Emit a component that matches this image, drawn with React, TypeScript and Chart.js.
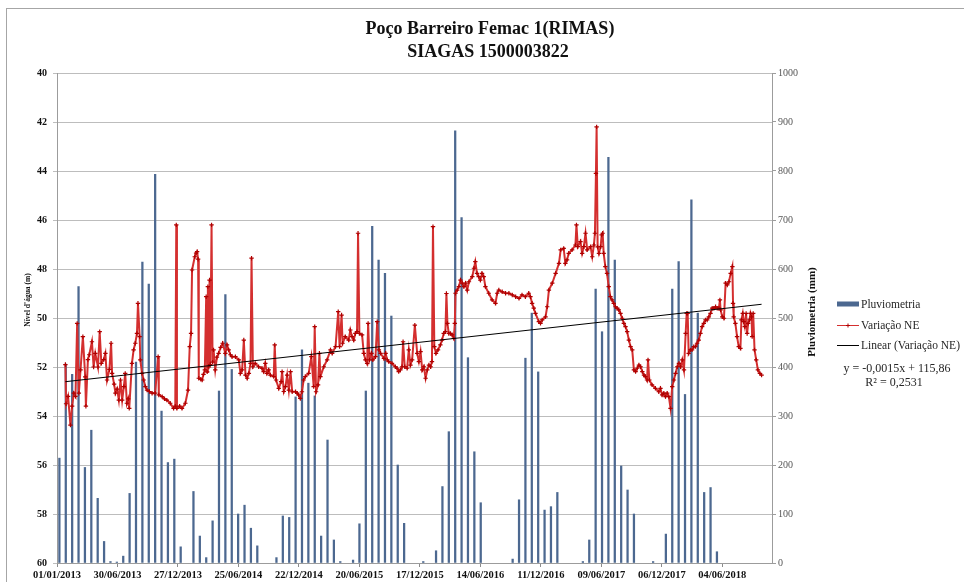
import { useEffect, useRef } from 'react';
import { Chart, registerables } from 'chart.js';

Chart.register(...registerables);

const FAMILY = "'Times New Roman', 'Liberation Serif', serif";

const TITLE_LINES = ['Poço Barreiro Femac 1(RIMAS)', 'SIAGAS 1500003822'];
const LEFT_AXIS_TITLE = "Nível d'água (m)";
const RIGHT_AXIS_TITLE = 'Pluviometria (mm)';

// x axis: days since 01/01/2013
const X_MIN_DAY = 0;
const X_MAX_DAY = 2128;
const X_TICK_DAYS = [0, 180, 360, 540, 720, 900, 1080, 1260, 1440, 1620, 1800, 1980];
const X_TICK_LABELS = [
  '01/01/2013', '30/06/2013', '27/12/2013', '25/06/2014', '22/12/2014', '20/06/2015',
  '17/12/2015', '14/06/2016', '11/12/2016', '09/06/2017', '06/12/2017', '04/06/2018',
];

// Pluviometria (mm), one bar per category of the secondary axis
const RAIN_MM = [
  214, 406, 385, 564, 195, 271, 132, 44, 3, 2,
  14, 142, 410, 614, 569, 793, 310, 205, 212, 33,
  0, 146, 55, 11, 86, 351, 548, 395, 100, 118,
  71, 35, 0, 0, 11, 96, 93, 339, 435, 367,
  341, 55, 251, 47, 3, 0, 6, 80, 351, 687,
  618, 591, 504, 200, 81, 0, 0, 3, 0, 25,
  156, 268, 882, 705, 419, 227, 123, 0, 0, 0,
  0, 8, 129, 418, 510, 390, 108, 115, 144, 0,
  0, 0, 3, 47, 559, 472, 828, 618, 198, 149,
  100, 0, 0, 3, 0, 59, 559, 615, 344, 741,
  510, 144, 154, 23, 0, 0, 0, 0, 0, 0,
  0, 0,
];
const RAIN_LABELS = RAIN_MM.map((_, i) => String(i + 1));

// Variação NE: [day since 01/01/2013, level (m)]
const NE_SERIES: [number, number][] = [
  [25, 51.9], [27, 53.5], [33, 53.2], [40, 54.37], [45, 53.6], [50, 53.07], [55, 53.2], [60, 50.22], [65, 53.07], [70, 52.12],
  [77, 50.76], [84, 52.4], [86, 53.6], [92, 51.7], [96, 51.5], [104, 50.97], [109, 52.0], [114, 51.44], [122, 52.0], [127, 50.56],
  [132, 51.85], [139, 51.7], [144, 51.44], [149, 52.53], [156, 52.1], [161, 51.03], [164, 52.26], [170, 52.7], [174, 53.07], [179, 52.9],
  [184, 53.35], [189, 52.53], [194, 53.35], [199, 52.8], [203, 52.26], [208, 53.48], [212, 53.3], [215, 53.69], [223, 51.85], [228, 51.3],
  [233, 51.03], [238, 50.63], [241, 49.4], [246, 50.76], [248, 51.71], [253, 52.26], [258, 52.53], [263, 52.8], [268, 52.94], [275, 53.0],
  [283, 53.07], [292, 53.07], [301, 51.58], [303, 53.14], [313, 53.21], [320, 53.3], [327, 53.35], [337, 53.48], [347, 53.69], [352, 53.6],
  [355, 46.2], [357, 53.69], [365, 53.6], [372, 53.69], [382, 53.48], [390, 52.94], [395, 51.17], [399, 50.63], [402, 48.04], [410, 47.5],
  [414, 47.35], [417, 47.29], [420, 47.6], [422, 52.46], [428, 52.5], [432, 52.53], [436, 52.3], [440, 52.12], [444, 49.13], [447, 52.2],
  [449, 48.72], [452, 52.0], [454, 48.45], [456, 51.9], [460, 46.2], [463, 51.8], [466, 51.3], [471, 52.12], [476, 51.6], [481, 51.44],
  [487, 51.2], [493, 51.03], [501, 51.44], [506, 51.1], [511, 51.3], [516, 51.5], [521, 51.58], [531, 51.58], [541, 51.71], [546, 52.26],
  [551, 52.12], [556, 50.9], [561, 52.33], [566, 52.46], [571, 52.26], [576, 51.85], [579, 47.56], [583, 51.99], [590, 51.85], [600, 51.99],
  [610, 52.05], [615, 52.19], [620, 51.85], [625, 52.26], [630, 52.12], [635, 52.33], [645, 52.39], [648, 51.1], [652, 52.53], [660, 52.87],
  [667, 52.6], [670, 52.19], [675, 53.0], [680, 52.8], [685, 52.33], [690, 52.94], [695, 52.19], [700, 53.01], [710, 53.01], [715, 53.07],
  [719, 53.14], [724, 53.28], [729, 53.01], [734, 52.53], [739, 52.39], [749, 52.26], [757, 51.58], [764, 52.8], [767, 50.35], [771, 53.01],
  [777, 52.73], [781, 51.44], [784, 52.39], [794, 51.99], [804, 51.71], [814, 51.3], [819, 51.44], [829, 51.17], [837, 49.74], [841, 51.17],
  [847, 49.88], [850, 51.03], [858, 50.76], [868, 50.9], [873, 50.49], [878, 50.76], [883, 50.9], [888, 50.63], [893, 50.56], [896, 46.54],
  [900, 50.63], [908, 50.69], [913, 51.44], [918, 51.71], [923, 51.85], [926, 50.22], [930, 51.71], [936, 51.44], [940, 51.71], [948, 51.58],
  [953, 50.15], [958, 51.3], [963, 51.44], [973, 51.65], [978, 51.44], [983, 51.71], [987, 51.78], [997, 51.85], [1007, 51.99], [1012, 52.05],
  [1017, 52.19], [1022, 52.12], [1027, 51.99], [1030, 50.97], [1035, 51.99], [1042, 52.05], [1047, 51.3], [1052, 51.92], [1057, 51.71], [1065, 50.29],
  [1072, 51.44], [1077, 51.78], [1082, 51.37], [1087, 52.12], [1092, 51.99], [1097, 52.46], [1102, 52.12], [1107, 51.92], [1112, 51.99], [1116, 51.78],
  [1119, 46.27], [1123, 51.17], [1128, 51.44], [1134, 51.3], [1141, 51.1], [1146, 50.9], [1151, 50.63], [1156, 50.56], [1159, 49.0], [1162, 50.22],
  [1166, 50.63], [1171, 50.63], [1176, 50.69], [1181, 50.83], [1184, 50.22], [1186, 48.99], [1191, 48.86], [1196, 48.72], [1201, 48.45], [1206, 48.58],
  [1211, 48.72], [1216, 48.58], [1221, 48.86], [1226, 48.52], [1236, 48.31], [1241, 47.97], [1245, 47.7], [1250, 48.18], [1255, 48.31], [1260, 48.45],
  [1265, 48.18], [1270, 48.31], [1275, 48.72], [1285, 48.99], [1295, 49.26], [1305, 49.4], [1310, 48.99], [1315, 48.86], [1325, 48.93], [1335, 48.99],
  [1345, 48.99], [1355, 49.06], [1365, 49.13], [1375, 49.2], [1384, 49.06], [1394, 49.13], [1404, 48.99], [1409, 49.13], [1414, 49.4], [1419, 49.6],
  [1424, 49.81], [1434, 50.15], [1439, 50.22], [1444, 50.08], [1454, 49.95], [1459, 49.54], [1464, 48.86], [1474, 48.58], [1484, 48.18], [1494, 47.77],
  [1499, 47.22], [1508, 47.16], [1513, 47.77], [1518, 47.63], [1523, 47.36], [1533, 47.22], [1543, 47.02], [1546, 46.2], [1550, 47.09], [1558, 46.88],
  [1563, 47.36], [1568, 47.09], [1573, 46.54], [1578, 47.22], [1588, 47.09], [1593, 47.5], [1598, 47.02], [1601, 46.54], [1604, 44.1], [1606, 42.2],
  [1609, 47.1], [1613, 47.36], [1618, 47.09], [1621, 46.61], [1624, 46.54], [1627, 47.36], [1632, 47.9], [1637, 48.18], [1642, 48.72], [1647, 49.13],
  [1652, 49.26], [1657, 49.4], [1662, 49.54], [1667, 49.6], [1672, 49.67], [1677, 49.81], [1682, 50.01], [1687, 50.22], [1692, 50.35], [1697, 50.56],
  [1702, 50.9], [1707, 51.17], [1712, 51.3], [1717, 52.12], [1722, 52.19], [1727, 52.05], [1732, 51.92], [1737, 51.99], [1742, 52.19], [1747, 52.33],
  [1751, 52.39], [1756, 52.53], [1759, 51.71], [1763, 52.53], [1771, 52.73], [1781, 52.87], [1791, 53.01], [1796, 52.87], [1801, 53.14], [1806, 53.07],
  [1811, 53.21], [1816, 53.07], [1821, 53.21], [1826, 53.69], [1831, 52.8], [1836, 52.53], [1841, 52.26], [1846, 51.99], [1851, 51.85], [1856, 51.99],
  [1861, 51.71], [1866, 52.12], [1871, 50.63], [1874, 49.81], [1877, 49.81], [1880, 51.44], [1885, 51.3], [1890, 51.3], [1895, 51.17], [1900, 51.17],
  [1905, 51.03], [1910, 50.9], [1915, 50.63], [1920, 50.35], [1925, 50.22], [1930, 50.08], [1935, 50.08], [1940, 49.95], [1945, 49.81], [1950, 49.6],
  [1955, 49.6], [1960, 49.54], [1965, 49.6], [1970, 49.6], [1973, 49.26], [1975, 49.67], [1980, 49.95], [1985, 50.01], [1990, 48.58], [1995, 48.65],
  [2000, 48.52], [2005, 48.18], [2010, 47.9], [2012, 49.4], [2014, 49.95], [2019, 50.22], [2024, 50.76], [2029, 51.17], [2034, 51.24], [2037, 50.08],
  [2041, 49.81], [2044, 50.15], [2047, 50.35], [2051, 49.81], [2054, 50.63], [2057, 50.22], [2061, 50.08], [2064, 49.81], [2067, 49.95], [2069, 50.76],
  [2072, 49.81], [2076, 51.3], [2081, 51.71], [2086, 52.12], [2092, 52.26], [2097, 52.33],
];

// Linear trend of Variação NE (end points)
const TREND_DAYS = [25, 2097];
const TREND_LEVELS = [52.6, 49.44];
const TREND_EQUATION = 'y = -0,0015x + 115,86';
const TREND_R2 = 'R² = 0,2531';

const BAR_COLOR = '#4C6890';
const NE_LINE_COLOR = '#D42F2F';
const NE_POINT_COLOR = '#B00000';

const decorPlugin = {
  id: 'decor',
  beforeDraw(chart: any) {
    const ctx = chart.ctx;
    ctx.save();
    ctx.fillStyle = '#ffffff';
    ctx.fillRect(0, 0, chart.width, chart.height);
    ctx.strokeStyle = '#a6a6a6';
    ctx.lineWidth = 1;
    ctx.strokeRect(6.5, 8.5, chart.width + 20, chart.height + 20);
    ctx.restore();
  },
  afterDraw(chart: any) {
    const ctx = chart.ctx;
    const area = chart.chartArea;
    ctx.save();
    // title
    ctx.fillStyle = '#111';
    ctx.textAlign = 'center';
    ctx.textBaseline = 'alphabetic';
    ctx.font = `bold 18px ${FAMILY}`;
    ctx.fillText(TITLE_LINES[0], 490, 34);
    ctx.fillText(TITLE_LINES[1], 488, 57);

    // axis titles
    ctx.save();
    ctx.translate(28, 300);
    ctx.rotate(-Math.PI / 2);
    ctx.font = `bold 7.5px ${FAMILY}`;
    ctx.textBaseline = 'middle';
    ctx.fillText(LEFT_AXIS_TITLE, 0, 0);
    ctx.restore();

    ctx.save();
    ctx.translate(area.right + 40, 312);
    ctx.rotate(-Math.PI / 2);
    ctx.font = `bold 11px ${FAMILY}`;
    ctx.textBaseline = 'middle';
    ctx.fillText(RIGHT_AXIS_TITLE, 0, 0);
    ctx.restore();

    // legend
    const ds = chart.data.datasets;
    const lx = 837;
    const sw = 22;
    const rows = [304, 325, 345];
    ctx.font = `11.5px ${FAMILY}`;
    ctx.textAlign = 'left';
    ctx.textBaseline = 'middle';
    // bars
    ctx.fillStyle = ds[0].backgroundColor;
    ctx.fillRect(lx, rows[0] - 2.5, sw, 5);
    // Variação NE
    ctx.strokeStyle = ds[1].borderColor;
    ctx.lineWidth = 1;
    ctx.beginPath();
    ctx.moveTo(lx, rows[1] + 0.5);
    ctx.lineTo(lx + sw, rows[1] + 0.5);
    ctx.stroke();
    ctx.strokeStyle = ds[1].pointBorderColor;
    ctx.beginPath();
    ctx.moveTo(lx + sw / 2 - 2, rows[1] + 0.5);
    ctx.lineTo(lx + sw / 2 + 2, rows[1] + 0.5);
    ctx.moveTo(lx + sw / 2, rows[1] - 1.5);
    ctx.lineTo(lx + sw / 2, rows[1] + 2.5);
    ctx.stroke();
    // trend
    ctx.strokeStyle = ds[2].borderColor;
    ctx.beginPath();
    ctx.moveTo(lx, rows[2] + 0.5);
    ctx.lineTo(lx + sw, rows[2] + 0.5);
    ctx.stroke();
    ctx.fillStyle = '#262626';
    for (let i = 0; i < 3; i++) ctx.fillText(ds[i].label, lx + sw + 2, rows[i] + 1);

    // equation
    ctx.textAlign = 'center';
    ctx.font = `12px ${FAMILY}`;
    ctx.fillText(TREND_EQUATION, 897, 369);
    ctx.fillText(TREND_R2, 894, 383);
    ctx.restore();
  },
};

export default function App() {
  const canvasRef = useRef<HTMLCanvasElement | null>(null);

  useEffect(() => {
    const canvas = canvasRef.current;
    if (!canvas) return;
    const chart = new Chart(canvas, {
      type: 'line',
      data: {
        datasets: [
          {
            type: 'bar',
            label: 'Pluviometria',
            data: RAIN_MM.map((v) => (v === 0 ? null : v)),
            xAxisID: 'xBar',
            yAxisID: 'yRain',
            backgroundColor: BAR_COLOR,
            borderWidth: 0,
            barThickness: 1.6,
            order: 3,
          } as any,
          {
            type: 'line',
            label: 'Variação NE',
            data: NE_SERIES.map(([d, v]) => ({ x: d, y: v })),
            xAxisID: 'x',
            yAxisID: 'y',
            borderColor: NE_LINE_COLOR,
            borderWidth: 2,
            pointStyle: 'cross',
            pointRadius: 2.2,
            pointBorderColor: NE_POINT_COLOR,
            pointBackgroundColor: NE_POINT_COLOR,
            pointBorderWidth: 1.2,
            tension: 0,
            order: 2,
          },
          {
            type: 'line',
            label: 'Linear (Variação NE)',
            data: TREND_DAYS.map((d, i) => ({ x: d, y: TREND_LEVELS[i] })),
            xAxisID: 'x',
            yAxisID: 'y',
            borderColor: '#000000',
            borderWidth: 1,
            pointRadius: 0,
            order: 1,
          },
        ],
      },
      options: {
        responsive: false,
        animation: false,
        layout: { padding: { left: 0, top: 73, right: 141, bottom: 0 } },
        plugins: {
          legend: { display: false },
          title: { display: false },
          tooltip: { enabled: false },
        },
        scales: {
          x: {
            type: 'linear',
            position: 'bottom',
            min: X_MIN_DAY,
            max: X_MAX_DAY,
            offset: false,
            afterBuildTicks: (s: any) => {
              s.ticks = X_TICK_DAYS.map((v) => ({ value: v }));
            },
            afterFit: (s: any) => {
              s.height = 19;
            },
            ticks: {
              autoSkip: false,
              maxRotation: 0,
              minRotation: 0,
              padding: 2,
              color: '#111',
              font: { family: FAMILY, size: 10.5, weight: 'bold' },
              callback: (_v: any, i: number) => X_TICK_LABELS[i],
            },
            grid: { drawOnChartArea: false, drawTicks: true, tickLength: 4, color: '#8c8c8c', offset: false },
            border: { color: '#9c9c9c' },
          },
          xBar: {
            type: 'category',
            labels: RAIN_LABELS,
            display: false,
            offset: true,
            grid: { offset: true },
          },
          y: {
            type: 'linear',
            position: 'left',
            reverse: true,
            min: 40,
            max: 60,
            afterFit: (s: any) => {
              s.width = 57;
            },
            ticks: {
              stepSize: 2,
              padding: 6,
              color: '#111',
              font: { family: FAMILY, size: 10, weight: 'bold' },
              callback: (v: any) => String(v),
            },
            grid: { color: '#BDBDBD', tickLength: 4 },
            border: { color: '#9c9c9c' },
          },
          yRain: {
            type: 'linear',
            position: 'right',
            min: 0,
            max: 1000,
            afterFit: (s: any) => {
              s.width = 51;
            },
            ticks: {
              stepSize: 100,
              padding: 2,
              color: '#555',
              font: { family: FAMILY, size: 10 },
              callback: (v: any) => String(v),
            },
            grid: { drawOnChartArea: false, tickLength: 4, color: '#9c9c9c' },
            border: { color: '#9c9c9c' },
          },
        },
      } as any,
      plugins: [decorPlugin],
    });
    return () => chart.destroy();
  }, []);

  return (
    <div style={{ position: 'absolute', left: 0, top: 0, width: 964, height: 582, background: '#fff' }}>
      <canvas ref={canvasRef} width={964} height={582} style={{ display: 'block' }} />
    </div>
  );
}
